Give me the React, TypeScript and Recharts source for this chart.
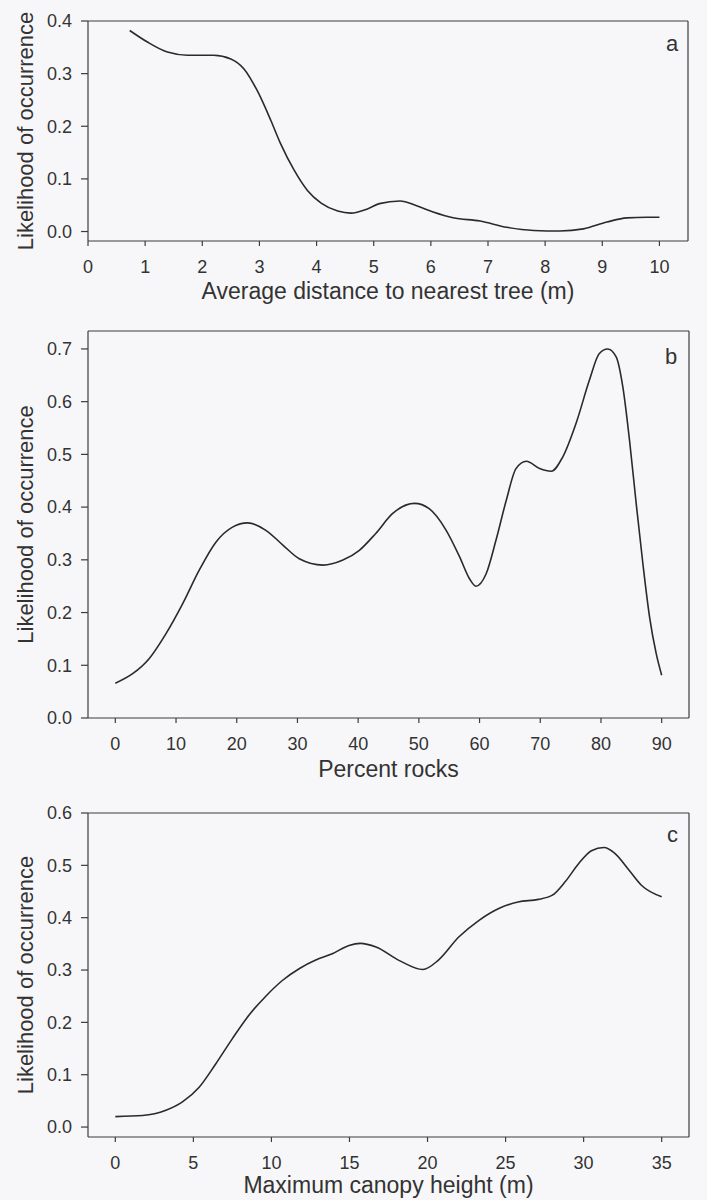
import { LineChart, Line, XAxis, YAxis } from "recharts";

// panel a: average distance to nearest tree (m)
const distX = [0.73, 1.04, 1.39, 1.74, 2.2, 2.5, 2.73, 2.96, 3.2, 3.37, 3.61, 3.84, 4.08, 4.37, 4.6, 4.89, 5.1, 5.46, 5.75, 6.04, 6.39, 6.86, 7.33, 7.8, 8.26, 8.67, 9.08, 9.43, 9.78, 10.0];
const distY = [0.382, 0.36, 0.341, 0.335, 0.335, 0.328, 0.309, 0.268, 0.211, 0.167, 0.116, 0.078, 0.054, 0.039, 0.035, 0.043, 0.053, 0.058, 0.049, 0.037, 0.026, 0.02, 0.008, 0.002, 0.001, 0.005, 0.018, 0.026, 0.027, 0.027];

// panel b: percent rocks
const rockX = [0, 2.85, 5.6, 8.35, 11.1, 13.8, 16.6, 19.3, 21.8, 24.8, 27.6, 30.3, 34.2, 37.4, 40.2, 42.9, 45.7, 49.3, 51.7, 54.5, 56.7, 58.3, 59.4, 61.1, 62.7, 64.4, 66.0, 67.7, 69.9, 71.8, 73.7, 75.9, 78.1, 79.7, 81.1, 82.5, 83.6, 84.7, 85.8, 86.9, 88.0, 89.1, 90];
const rockY = [0.066, 0.084, 0.113, 0.16, 0.217, 0.28, 0.334, 0.362, 0.37, 0.356, 0.328, 0.302, 0.29, 0.299, 0.318, 0.35, 0.388, 0.407, 0.397, 0.356, 0.306, 0.265, 0.25, 0.274, 0.337, 0.413, 0.473, 0.487, 0.473, 0.468, 0.495, 0.559, 0.641, 0.691, 0.7, 0.685, 0.628, 0.527, 0.407, 0.293, 0.192, 0.122, 0.081];

// panel c: maximum canopy height (m)
const canopyX = [0, 1.75, 3.24, 4.3, 5.37, 6.44, 7.5, 8.57, 9.64, 10.7, 11.8, 12.84, 13.9, 14.97, 15.7, 16.7, 18.2, 19.7, 20.7, 22.0, 23.3, 24.6, 25.8, 27.1, 28.0, 28.8, 29.7, 30.5, 31.3, 32.0, 32.9, 33.7, 35.0];
const canopyY = [0.02, 0.022, 0.032, 0.048, 0.076, 0.121, 0.169, 0.214, 0.25, 0.28, 0.303, 0.319, 0.331, 0.347, 0.351, 0.344, 0.318, 0.301, 0.319, 0.363, 0.395, 0.418, 0.43, 0.435, 0.443, 0.468, 0.504, 0.528, 0.534, 0.523, 0.491, 0.462, 0.44];

const distTicks = [0, 1, 2, 3, 4, 5, 6, 7, 8, 9, 10];
const rockTicks = [0, 10, 20, 30, 40, 50, 60, 70, 80, 90];
const canopyTicks = [0, 5, 10, 15, 20, 25, 30, 35];
const likeTicksA = [0, 0.1, 0.2, 0.3, 0.4];
const likeTicksB = [0, 0.1, 0.2, 0.3, 0.4, 0.5, 0.6, 0.7];
const likeTicksC = [0, 0.1, 0.2, 0.3, 0.4, 0.5, 0.6];

const INK = "#333";
const AXIS = "#3c3c3c";

interface PanelProps {
  xs: number[];
  ys: number[];
  xTicks: number[];
  yTicks: number[];
  xDomain: [number, number];
  yDomain: [number, number];
  xTitle: string;
  height: number;
  topH: number;
  bottomH: number;
  rightW: number;
  titleOffset: number;
}

const Panel = ({ xs, ys, xTicks, yTicks, xDomain, yDomain, xTitle, height, topH, bottomH, rightW, titleOffset }: PanelProps) => {
  const data = xs.map((x, i) => ({ x, y: ys[i] }));
  const axisLine = { stroke: AXIS, strokeWidth: 1.2 };
  const tickLine = { stroke: AXIS, strokeWidth: 1.2 };
  return (
    <LineChart width={707} height={height} data={data} margin={{ top: 0, right: 0, bottom: 0, left: 0 }}>
      <XAxis
        xAxisId="bottom"
        dataKey="x"
        type="number"
        domain={xDomain}
        ticks={xTicks}
        allowDataOverflow
        height={bottomH}
        tickSize={5}
        tickMargin={14}
        axisLine={axisLine}
        tickLine={tickLine}
        tick={{ fontSize: 18, fill: INK }}
        label={{ value: xTitle, position: "insideBottom", offset: titleOffset, fontSize: 23, fill: INK }}
      />
      <XAxis
        xAxisId="top"
        dataKey="x"
        type="number"
        orientation="top"
        domain={xDomain}
        ticks={xTicks}
        allowDataOverflow
        height={topH}
        tickSize={5}
        axisLine={axisLine}
        tickLine={tickLine}
        tick={false}
      />
      <YAxis
        yAxisId="left"
        type="number"
        domain={yDomain}
        ticks={yTicks}
        allowDataOverflow
        width={88}
        tickSize={7}
        tickMargin={9}
        axisLine={axisLine}
        tickLine={tickLine}
        tick={{ fontSize: 18, fill: INK }}
        tickFormatter={(v: number) => v.toFixed(1)}
        label={{
          value: "Likelihood of occurrence",
          angle: -90,
          position: "insideLeft",
          offset: 25,
          fontSize: 22,
          fill: INK,
          style: { textAnchor: "middle" },
        }}
      />
      <YAxis
        yAxisId="right"
        orientation="right"
        type="number"
        domain={yDomain}
        ticks={yTicks}
        allowDataOverflow
        width={rightW}
        tickSize={5}
        axisLine={axisLine}
        tickLine={tickLine}
        tick={false}
      />
      <Line
        xAxisId="bottom"
        yAxisId="left"
        type="monotone"
        dataKey="y"
        stroke="#2a2a2a"
        strokeWidth={1.6}
        dot={false}
        isAnimationActive={false}
      />
    </LineChart>
  );
};

const letter = (text: string, left: number, top: number) => (
  <div style={{ position: "absolute", left, top, fontSize: 22, lineHeight: "22px", color: INK }}>{text}</div>
);

export default function App() {
  return (
    <div
      style={{
        position: "absolute",
        left: 0,
        top: 0,
        width: 707,
        height: 1200,
        background: "#f7f7f9",
        fontFamily: "'Liberation Sans', Arial, sans-serif",
      }}
    >
      <Panel
        xs={distX}
        ys={distY}
        xTicks={distTicks}
        yTicks={likeTicksA}
        xDomain={[0, 10.5]}
        yDomain={[-0.018, 0.4]}
        xTitle="Average distance to nearest tree (m)"
        height={305}
        topH={21}
        bottomH={64}
        rightW={19}
        titleOffset={6}
      />
      <Panel
        xs={rockX}
        ys={rockY}
        xTicks={rockTicks}
        yTicks={likeTicksB}
        xDomain={[-4.5, 94.5]}
        yDomain={[0, 0.734]}
        xTitle="Percent rocks"
        height={485}
        topH={26}
        bottomH={72}
        rightW={18}
        titleOffset={13}
      />
      <Panel
        xs={canopyX}
        ys={canopyY}
        xTicks={canopyTicks}
        yTicks={likeTicksC}
        xDomain={[-1.75, 36.75]}
        yDomain={[-0.019, 0.6]}
        xTitle="Maximum canopy height (m)"
        height={410}
        topH={23}
        bottomH={63}
        rightW={18}
        titleOffset={7}
      />
      {letter("a", 666, 33)}
      {letter("b", 665, 346)}
      {letter("c", 667, 824)}
    </div>
  );
}
